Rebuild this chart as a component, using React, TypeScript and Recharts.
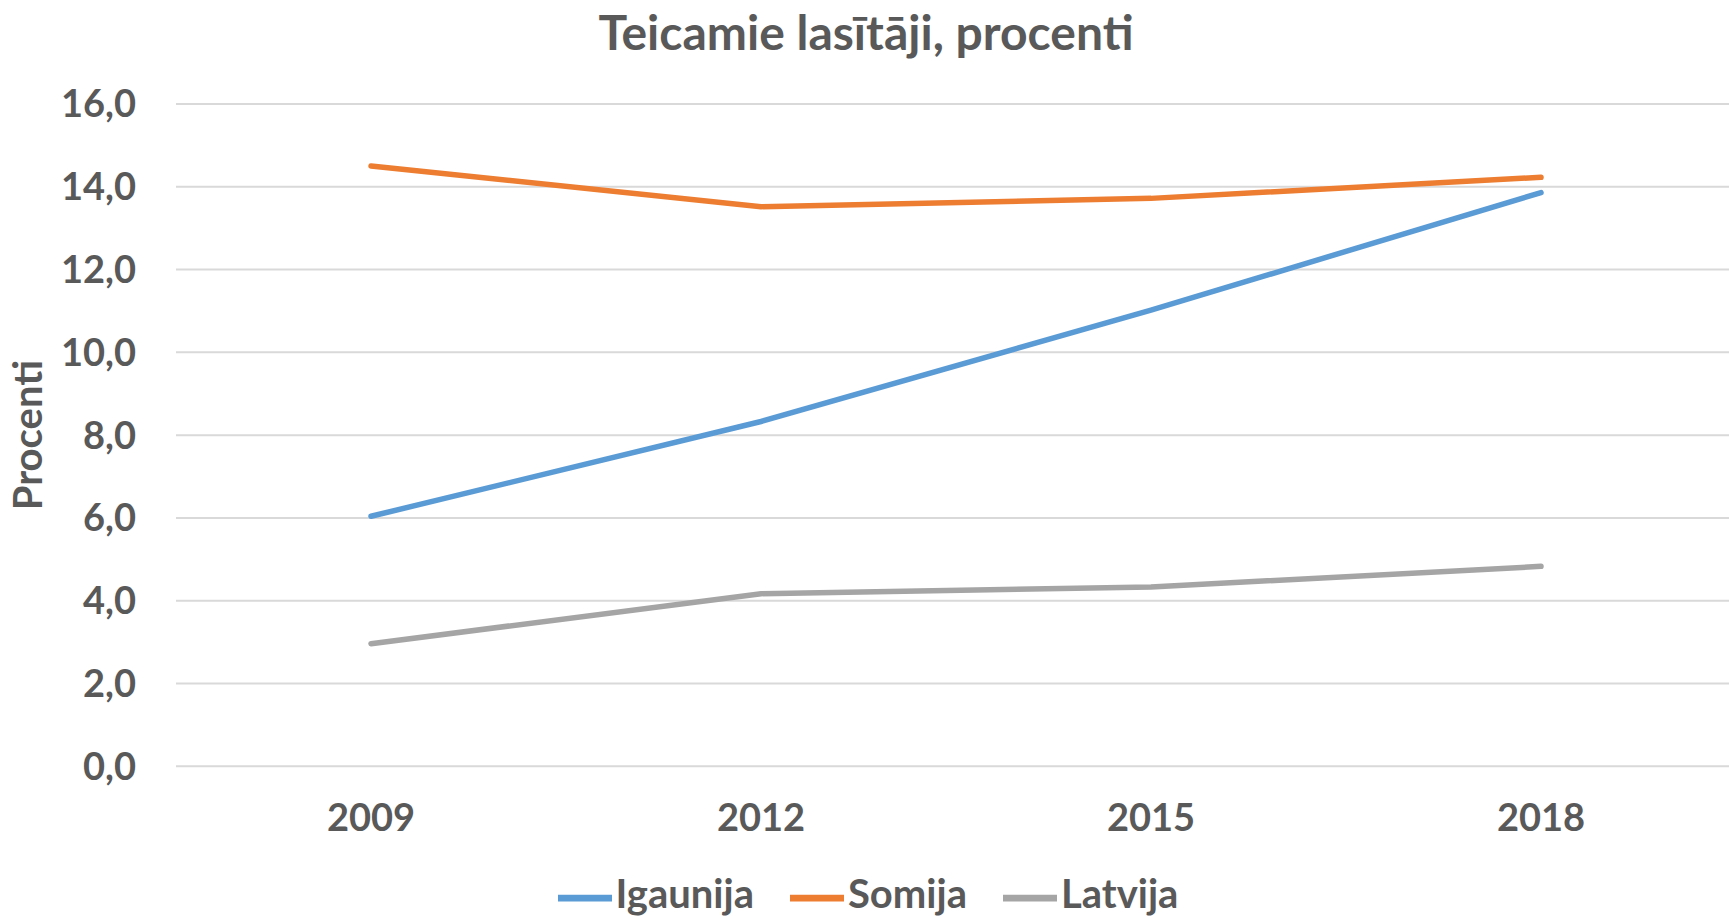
import { LineChart, Line, XAxis, YAxis, CartesianGrid, Legend } from 'recharts';

// PISA reading: top performers share, percent
const years = ['2009', '2012', '2015', '2018'];
const igaunija = [6.04, 8.33, 11.02, 13.86];
const somija = [14.5, 13.52, 13.72, 14.23];
const latvija = [2.96, 4.17, 4.33, 4.83];
const yTicks = [0, 2, 4, 6, 8, 10, 12, 14, 16];
const seriesOrder = ['Igaunija', 'Somija', 'Latvija'];

const data = years.map((year, i) => ({
  year,
  Igaunija: igaunija[i],
  Somija: somija[i],
  Latvija: latvija[i],
}));

const FONT = 'Lato, "Open Sans", sans-serif';
const TEXT = '#595959';

export default function App() {
  return (
    <div
      style={{
        position: 'absolute',
        left: 0,
        top: 0,
        width: 1729,
        height: 917,
        overflow: 'hidden',
        background: '#fff',
        fontFamily: FONT,
      }}
    >
      <div
        style={{
          position: 'absolute',
          left: 0,
          top: 3,
          width: 1732,
          textAlign: 'center',
          fontSize: 48,
          fontWeight: 700,
          color: TEXT,
          lineHeight: '58px',
        }}
      >
        Teicamie lasītāji, procenti
      </div>
      <LineChart
        width={1740}
        height={917}
        data={data}
        margin={{ top: 104, right: 4, bottom: 20, left: 0 }}
      >
        <CartesianGrid vertical={false} stroke="#d9d9d9" strokeWidth={2} />
        <XAxis
          dataKey="year"
          scale="band"
          axisLine={false}
          tickLine={false}
          tickSize={0}
          tickMargin={38}
          height={75}
          tick={{ fill: TEXT, fontSize: 38, fontWeight: 700, fontFamily: FONT }}
        />
        <YAxis
          domain={[0, 16]}
          ticks={yTicks}
          interval={0}
          width={176}
          axisLine={false}
          tickLine={false}
          tickSize={0}
          tickMargin={40}
          tickFormatter={(v: number) => v.toFixed(1).replace('.', ',')}
          tick={{ fill: TEXT, fontSize: 38, fontWeight: 700, fontFamily: FONT }}
          label={{
            value: 'Procenti',
            angle: -90,
            position: 'insideLeft',
            offset: 28,
            style: { textAnchor: 'middle', fill: TEXT, fontSize: 40, fontWeight: 700, fontFamily: FONT },
          }}
        />
        <Legend
          verticalAlign="bottom"
          iconType="plainline"
          iconSize={54}
          itemSorter={(item: any) => seriesOrder.indexOf(item.value)}
          wrapperStyle={{ fontSize: 40, fontWeight: 700, bottom: -8, left: 18 }}
          formatter={(value: string) => (
            <span style={{ color: TEXT, marginRight: 26 }}>{value}</span>
          )}
        />
        <Line
          dataKey="Igaunija"
          stroke="#5b9bd5"
          strokeWidth={5.5}
          strokeLinecap="round"
          dot={false}
          isAnimationActive={false}
        />
        <Line
          dataKey="Somija"
          stroke="#ed7d31"
          strokeWidth={5.5}
          strokeLinecap="round"
          dot={false}
          isAnimationActive={false}
        />
        <Line
          dataKey="Latvija"
          stroke="#a5a5a5"
          strokeWidth={5.5}
          strokeLinecap="round"
          dot={false}
          isAnimationActive={false}
        />
      </LineChart>
    </div>
  );
}
